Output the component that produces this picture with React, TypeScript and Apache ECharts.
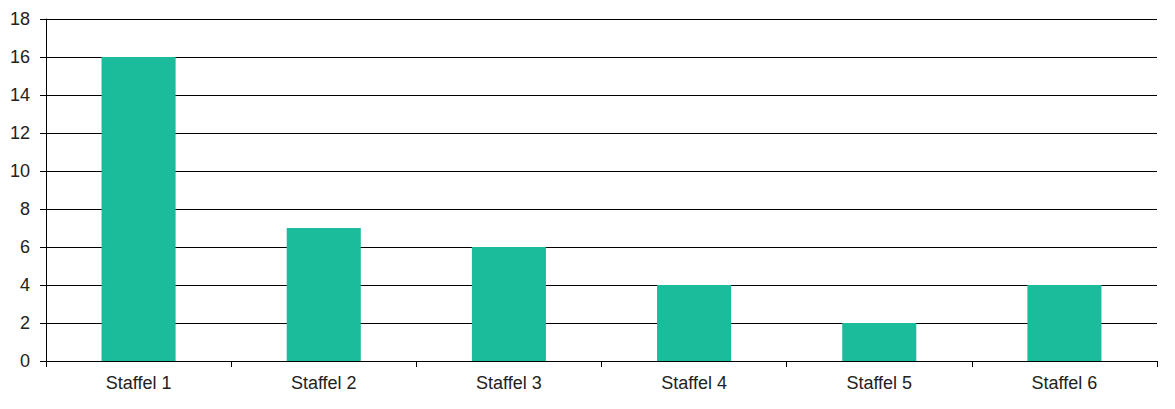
import React, { useEffect, useRef } from "react";
import * as echarts from "echarts";

const categories = ["Staffel 1", "Staffel 2", "Staffel 3", "Staffel 4", "Staffel 5", "Staffel 6"];
const values = [16, 7, 6, 4, 2, 4];

export default function App() {
  const ref = useRef<HTMLDivElement>(null);
  useEffect(() => {
    const chart = echarts.init(ref.current!, null, { renderer: "svg" });
    chart.setOption({
      animation: false,
      grid: { left: 46, right: 18, top: 19, bottom: 48, containLabel: false },
      xAxis: {
        type: "category",
        data: categories,
        axisLine: { show: true, lineStyle: { color: "#000", width: 1 } },
        axisTick: { show: true, alignWithLabel: false, length: 6, lineStyle: { color: "#000" } },
        axisLabel: { color: "#222", fontFamily: "Liberation Sans, Arial, sans-serif", fontSize: 18, margin: 13 },
        splitLine: { show: false },
      },
      yAxis: {
        type: "value",
        min: 0,
        max: 18,
        interval: 2,
        axisLine: { show: true, lineStyle: { color: "#000", width: 1 } },
        axisTick: { show: true, length: 6, lineStyle: { color: "#000" } },
        axisLabel: { color: "#222", fontFamily: "Liberation Sans, Arial, sans-serif", fontSize: 18, margin: 16 },
        splitLine: { show: true, lineStyle: { color: "#000", width: 1 } },
      },
      series: [
        {
          type: "bar",
          data: values,
          barWidth: "40%",
          itemStyle: { color: "#1abc9c" },
        },
      ],
    });
    return () => chart.dispose();
  }, []);
  return (
    <div
      ref={ref}
      style={{ position: "fixed", left: 0, top: 0, width: 1175, height: 409, background: "#fff" }}
    />
  );
}
